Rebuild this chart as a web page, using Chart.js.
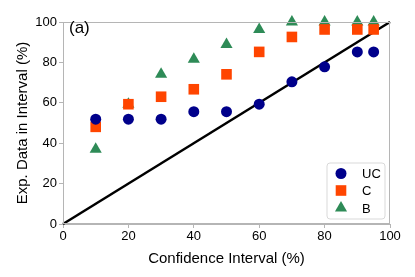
<!DOCTYPE html>
<html>
<head>
<meta charset="utf-8">
<script src="https://cdn.jsdelivr.net/npm/chart.js@4"></script>
<style>
  html, body { margin: 0; padding: 0; background: #fff; }
  #wrap { width: 415px; height: 277px; }
</style>
</head>
<body>
<div id="wrap"><canvas id="chart" width="415" height="277"></canvas></div>
<script>
const confLevels = [10, 20, 30, 40, 50, 60, 70, 80, 90, 95];
const ucValues = [51.9, 51.9, 51.9, 55.6, 55.6, 59.3, 70.4, 77.8, 85.2, 85.2];
const cValues = [48.1, 59.3, 63.0, 66.7, 74.1, 85.2, 92.6, 96.3, 96.3, 96.3];
const bValues = [37.0, 59.3, 74.1, 81.5, 88.9, 96.3, 100, 100, 100, 100];
const idealLine = [0, 100];
const xTicks = [0, 20, 40, 60, 80, 100];
const yTicks = [0, 20, 40, 60, 80, 100];

const FONT = "'Liberation Sans', Arial, sans-serif";

function toPoints(xs, ys) {
    return xs.map((x, i) => ({ x: x, y: ys[i] }));
}

const seriesInfo = [
    { label: 'UC', color: '#00008b', style: 'circle', radius: 5.5 },
    { label: 'C', color: '#ff4500', style: 'rect', radius: 7.5 },
    { label: 'B', color: '#2e8b57', style: 'triangle', radius: 7 }
];

// frame box, "(a)" label and legend drawn by hand
const decorPlugin = {
    id: 'decor',
    afterDraw(chart) {
        const ctx = chart.ctx;
        const a = chart.chartArea;
        ctx.save();
        ctx.strokeStyle = '#b5b5b5';
        ctx.lineWidth = 1;
        ctx.strokeRect(a.left + 0.5, a.top + 0.5, a.right - a.left - 1, a.bottom - a.top - 1);

        ctx.fillStyle = '#000';
        ctx.font = '17px ' + FONT;
        ctx.textBaseline = 'middle';
        ctx.textAlign = 'left';
        ctx.fillText('(a)', a.left + 6, a.top + 6);

        // legend
        const lx = 327, ly = 163, lw = 58, lh = 56;
        ctx.fillStyle = 'rgba(255,255,255,0.8)';
        ctx.strokeStyle = '#d9d9d9';
        ctx.beginPath();
        ctx.roundRect(lx, ly, lw, lh, 3);
        ctx.fill();
        ctx.stroke();
        const rows = [173.5, 190.5, 208];
        ctx.font = '13px ' + FONT;
        seriesInfo.forEach((s, i) => {
            ctx.fillStyle = s.color;
            ctx.strokeStyle = s.color;
            Chart.helpers.drawPoint(ctx, { pointStyle: s.style, radius: s.radius, borderWidth: 0 }, 341, rows[i]);
            ctx.fillStyle = '#000';
            ctx.fillText(s.label, 362, rows[i] + 1);
        });
        ctx.restore();
    }
};

function makeScatter(info, ys) {
    return {
        type: 'scatter',
        label: info.label,
        data: toPoints(confLevels, ys),
        pointStyle: info.style,
        pointRadius: info.radius,
        pointHoverRadius: info.radius,
        backgroundColor: info.color,
        borderColor: info.color,
        borderWidth: 0,
        showLine: false
    };
}

const ctx = document.getElementById('chart').getContext('2d');
new Chart(ctx, {
    data: {
        datasets: [
            {
                type: 'line',
                label: 'ideal',
                data: toPoints(idealLine, idealLine),
                borderColor: '#000',
                borderWidth: 2.5,
                pointRadius: 0,
                fill: false,
                order: 10
            },
            makeScatter(seriesInfo[0], ucValues),
            makeScatter(seriesInfo[1], cValues),
            makeScatter(seriesInfo[2], bValues)
        ]
    },
    options: {
        responsive: false,
        animation: false,
        clip: false,
        layout: { padding: { top: 22, right: 25, left: 14, bottom: 9 } },
        plugins: {
            legend: { display: false },
            tooltip: { enabled: false }
        },
        scales: {
            x: {
                type: 'linear',
                min: 0,
                max: 100,
                afterBuildTicks: (s) => { s.ticks = xTicks.map(v => ({ value: v })); },
                afterFit: (s) => { s.height = 44; },
                grid: { drawOnChartArea: false, drawTicks: true, tickLength: 4, color: '#b5b5b5' },
                border: { color: '#b5b5b5' },
                ticks: { color: '#000', font: { family: FONT, size: 13 }, padding: 1, maxRotation: 0 },
                title: { display: true, text: 'Confidence Interval (%)', color: '#000', font: { family: FONT, size: 15 }, padding: { top: 2, bottom: 0 } }
            },
            y: {
                type: 'linear',
                min: 0,
                max: 100,
                afterBuildTicks: (s) => { s.ticks = yTicks.map(v => ({ value: v })); },
                afterFit: (s) => { s.width = 49; },
                grid: { drawOnChartArea: false, drawTicks: true, tickLength: 4, color: '#b5b5b5' },
                border: { color: '#b5b5b5' },
                ticks: { color: '#000', font: { family: FONT, size: 13 }, padding: 2 },
                title: { display: true, text: 'Exp. Data in Interval (%)', color: '#000', font: { family: FONT, size: 15 }, padding: { top: 0, bottom: 2 } }
            }
        }
    },
    plugins: [decorPlugin]
});
</script>
</body>
</html>
